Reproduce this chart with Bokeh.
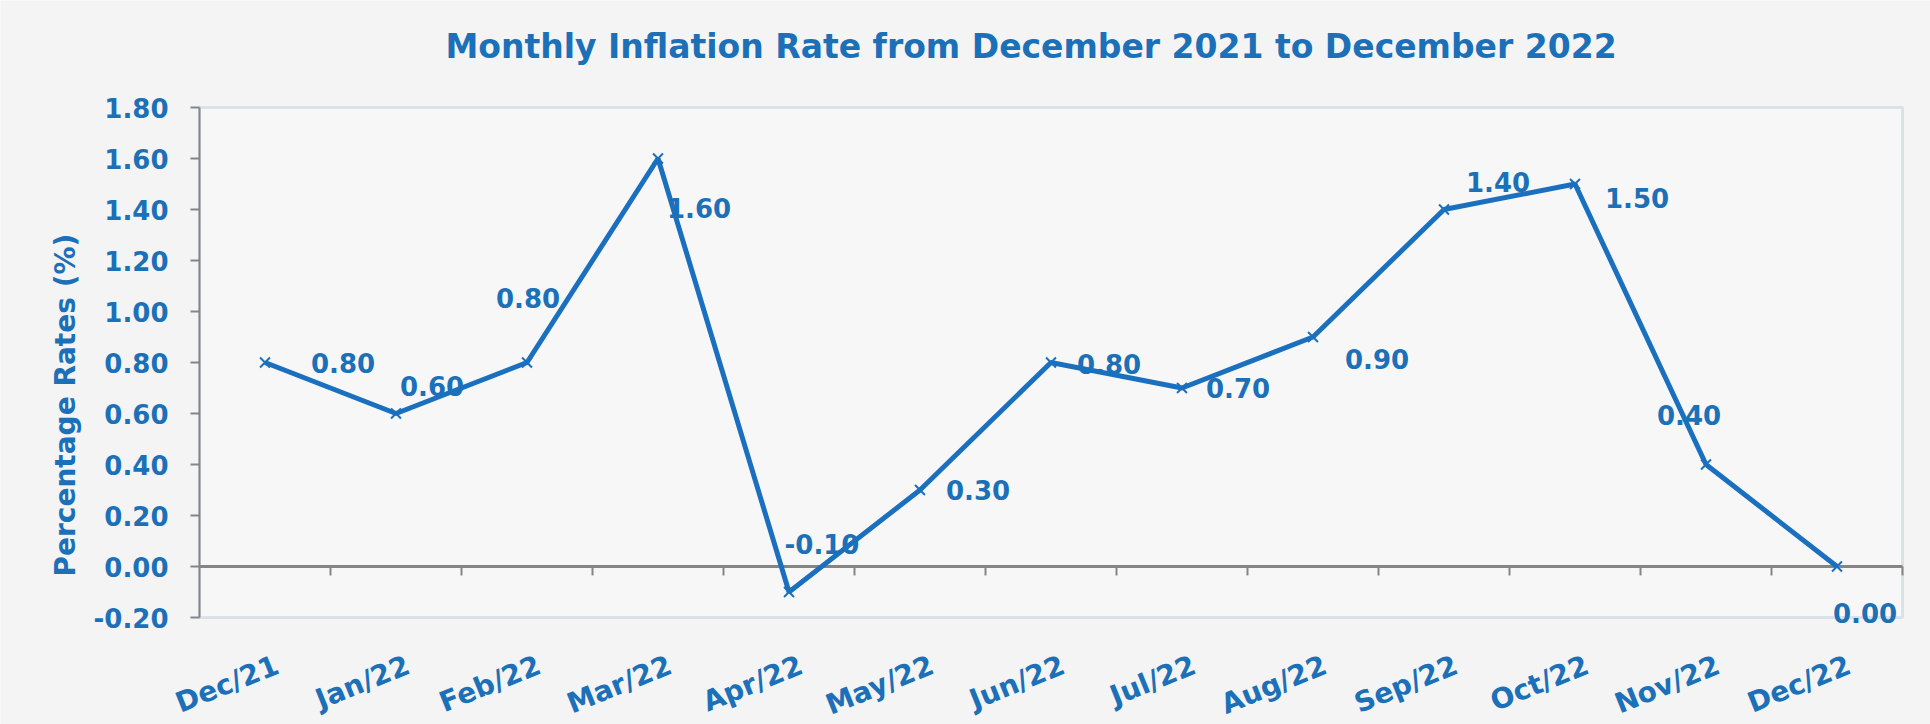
import math
from bokeh.plotting import figure
from bokeh.models import (Range1d, FixedTicker, NumeralTickFormatter, ColumnDataSource,
                          LabelSet, Label, BoxAnnotation, LinearAxis)
from bokeh.core.properties import value
from bokeh.embed import file_html
from bokeh.resources import INLINE

# ---- data ----
months = ["Dec/21", "Jan/22", "Feb/22", "Mar/22", "Apr/22", "May/22", "Jun/22",
          "Jul/22", "Aug/22", "Sep/22", "Oct/22", "Nov/22", "Dec/22"]
rates = [0.80, 0.60, 0.80, 1.60, -0.10, 0.30, 0.80, 0.70, 0.90, 1.40, 1.50, 0.40, 0.00]
y_ticks = [-0.20, 0.00, 0.20, 0.40, 0.60, 0.80, 1.00, 1.20, 1.40, 1.60, 1.80]
title_text = "Monthly Inflation Rate from December 2021 to December 2022"
y_title = "Percentage Rates (%)"

# ---- styling (label placement in screen pixels, +dy = upwards) ----
label_dx = [78, 36, 1, 41, 33, 58, 58, 56, 64, 54, 62, -17, 28]
label_dy = [0, 28, 65, -49, 48, 0, -1, 0, -22, 28, -14, 50, -46]

BLUE = "#1b70b8"
LINE = "#1a70be"
GRAY = "#858585"
FONT = "DejaVu Sans"
BG = "#f4f4f4"

W, H = 1930, 724
PLOT_LEFT, PLOT_RIGHT = 199, 1902        # pixel columns of the plot-area edges
PLOT_TOP, PLOT_BOTTOM = 107, 617         # pixel rows of the value-axis ends
ymin, ymax = y_ticks[0], y_ticks[-1]
yunit = (PLOT_BOTTOM - PLOT_TOP) / (ymax - ymin)
xunit = (PLOT_RIGHT - PLOT_LEFT) / len(months)
xr = Range1d(-0.5 - PLOT_LEFT / xunit, len(months) - 0.5 + (W - PLOT_RIGHT) / xunit)
yr = Range1d(ymin - (H - PLOT_BOTTOM) / yunit, ymax + PLOT_TOP / yunit)

idx = list(range(len(months)))

p = figure(width=W, height=H, output_backend="svg", toolbar_location=None,
           x_range=xr, y_range=yr, x_axis_location=None, y_axis_location=None,
           min_border_left=0, min_border_right=0, min_border_top=0, min_border_bottom=0)
p.title.visible = False
p.background_fill_color = BG
p.border_fill_color = BG
p.outline_line_color = None
p.xgrid.grid_line_color = None
p.ygrid.grid_line_color = None

# plot area box
p.add_layout(BoxAnnotation(left=-0.5, right=len(months) - 0.5, bottom=ymin, top=ymax,
                           fill_color="#f7f7f7", fill_alpha=1.0,
                           line_color="#9fb3cc", line_width=3, level="underlay"))

# value axis, pinned to the left edge of the plot area
ya = LinearAxis(fixed_location=-0.5, bounds=(ymin, ymax))
ya.ticker = FixedTicker(ticks=y_ticks)
ya.formatter = NumeralTickFormatter(format="0.00")
ya.axis_line_color = GRAY
ya.axis_line_width = 2
ya.major_tick_line_color = GRAY
ya.major_tick_line_width = 2
ya.major_tick_out = 9
ya.major_tick_in = 0
ya.minor_tick_line_color = None
ya.major_label_standoff = 22
ya.major_label_text_font = FONT
ya.major_label_text_font_size = "26px"
ya.major_label_text_font_style = "bold"
ya.major_label_text_color = BLUE
p.add_layout(ya, "left")

# axis title
p.add_layout(Label(x=-0.5, y=ymin, text=y_title, angle=math.pi / 2,
                   x_offset=-134, y_offset=41, text_align="left", text_baseline="middle",
                   text_font=FONT, text_font_size="28px", text_font_style="bold",
                   text_color=BLUE))

# chart title
p.add_layout(Label(x=(len(months) - 1) / 2, y=ymax, text=title_text,
                   x_offset=-20, y_offset=61, text_align="center", text_baseline="middle",
                   text_font=FONT, text_font_size="33px", text_font_style="bold",
                   text_color=BLUE))

# zero line and category tick marks on it
p.line(x=[-0.5, len(months) - 0.5], y=[0, 0], line_color=GRAY, line_width=3)
bounds = [i + 0.5 for i in idx]
p.segment(x0=bounds, y0=[0] * len(bounds), x1=bounds, y1=[-0.035] * len(bounds),
          line_color=GRAY, line_width=2)

# category labels under the plot area
cat_src = ColumnDataSource(dict(x=idx, y=[ymin] * len(idx), lab=months))
p.add_layout(LabelSet(x="x", y="y", text="lab", source=cat_src,
                      x_offset=6, y_offset=-31, angle=math.radians(22),
                      text_align="right", text_baseline="top",
                      text_font=value(FONT), text_font_size="28px", text_font_style="bold",
                      text_color=BLUE))

src = ColumnDataSource(dict(x=idx, y=rates, lab=[f"{v:.2f}" for v in rates],
                            dx=label_dx, dy=label_dy))

p.line(x="x", y="y", source=src, line_color=LINE, line_width=5)
p.scatter(x="x", y="y", source=src, marker="x", size=14, line_color=LINE, line_width=2)

p.add_layout(LabelSet(x="x", y="y", text="lab", source=src, x_offset="dx", y_offset="dy",
                      text_align="center", text_baseline="middle",
                      text_font=value(FONT), text_font_size="26px", text_font_style="bold",
                      text_color=BLUE))

open("out.html", "w").write(file_html(p, INLINE))
